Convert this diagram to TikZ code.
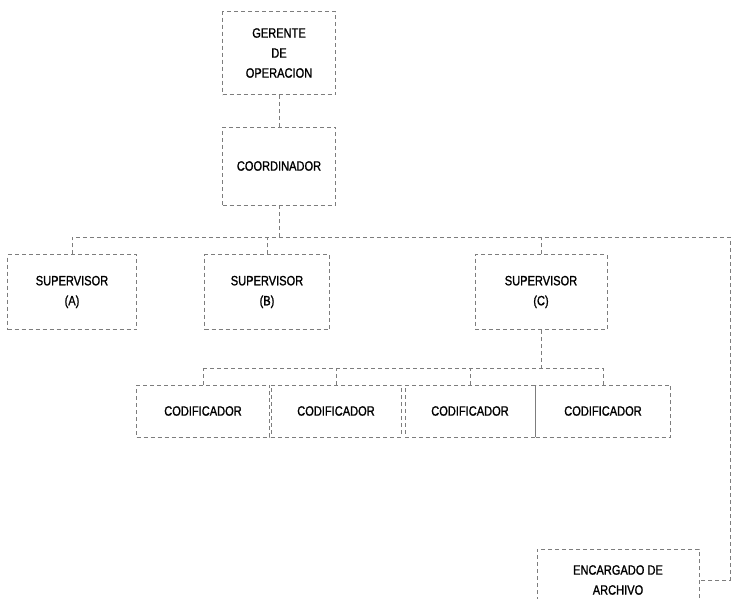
\documentclass[tikz,border=0pt]{standalone}
\usepackage{fontspec}
\setmainfont{Liberation Sans}[FakeStretch=0.82, FakeBold=1.2]
\usepackage{tikz}
\usetikzlibrary{positioning}
\definecolor{scangray}{RGB}{125, 125, 125}

\begin{document}
\begin{tikzpicture}[
  x=1pt, y=-1pt,
  box/.style={
    rectangle, draw=scangray, dash pattern=on 4pt off 3pt,
    line width=0.5pt, align=center,
    font=\fontsize{13.5}{20}\selectfont, inner sep=0pt
  },
  link/.style={draw=scangray, dash pattern=on 4pt off 3pt, line width=0.5pt}
]
  \useasboundingbox (0,0) rectangle (733,598);

  \node[box, minimum width=113pt, minimum height=83pt] (ger) at (279,53) {GERENTE\\DE\\OPERACION};
  \node[box, minimum width=113pt, minimum height=78pt] (coord) at (279,166) {COORDINADOR};

  \node[box, minimum width=129pt, minimum height=75pt] (supA) at (72,292) {SUPERVISOR\\(A)};
  \node[box, minimum width=125pt, minimum height=75pt] (supB) at (267,292) {SUPERVISOR\\(B)};
  \node[box, minimum width=132pt, minimum height=75pt] (supC) at (541,292) {SUPERVISOR\\(C)};

  \node[box, minimum width=133pt, minimum height=52pt] (cod1) at (203,411) {CODIFICADOR};
  \node[box, minimum width=130pt, minimum height=52pt] (cod2) at (336,411) {CODIFICADOR};
  \node[box, minimum width=130pt, minimum height=52pt] (cod3) at (470,411) {CODIFICADOR};
  \node[box, minimum width=135pt, minimum height=52pt] (cod4) at (603,411) {CODIFICADOR};

  \node[box, minimum width=162pt, minimum height=62pt] (arch) at (618,580) {ENCARGADO DE\\ARCHIVO};

  \coordinate (bus) at (730,237);
  \coordinate (codbus) at (0,368);

  \draw[link] (ger) -- (coord);
  \draw[link] (coord.south) -- (coord.south |- bus);
  \draw[link] (supA.north) |- (bus) |- (arch.east);
  \draw[link] (supB.north) -- (supB.north |- bus);
  \draw[link] (supC.north) -- (supC.north |- bus);

  \draw[link] (supC.south) -- (supC.south |- codbus);
  \draw[link] (cod1.north |- codbus) -- (cod4.north |- codbus);
  \draw[link] (cod1.north) -- (cod1.north |- codbus);
  \draw[link] (cod2.north) -- (cod2.north |- codbus);
  \draw[link] (cod3.north) -- (cod3.north |- codbus);
  \draw[link] (cod4.north) -- (cod4.north |- codbus);
\end{tikzpicture}
\end{document}
